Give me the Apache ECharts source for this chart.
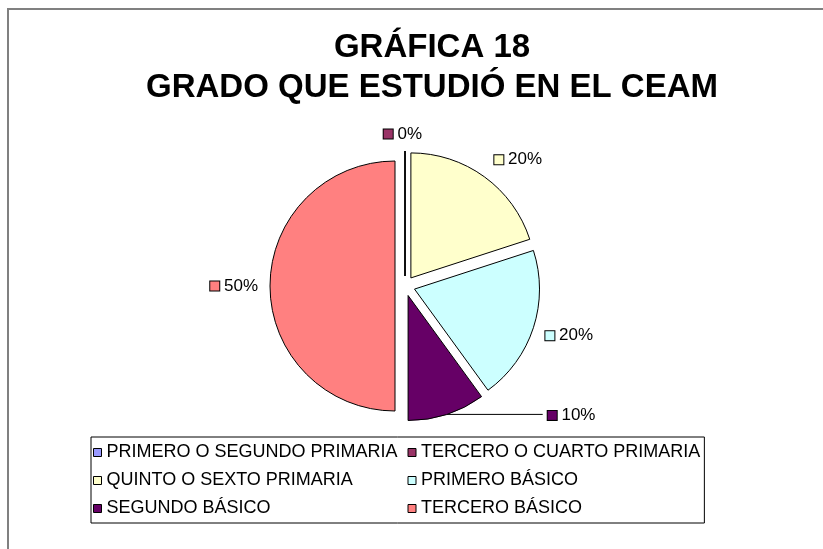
<!DOCTYPE html>
<html>
<head>
<meta charset="utf-8">
<script src="https://cdn.jsdelivr.net/npm/echarts@6/dist/echarts.min.js"></script>
<style>
	html, body { margin: 0; padding: 0; background: #fff; }
	#chart { width: 823px; height: 549px; }
</style>
</head>
<body>
<div id="chart"></div>
<script>
	// datos de la gráfica
	const categories = [
		"PRIMERO O SEGUNDO PRIMARIA",
		"TERCERO O CUARTO PRIMARIA",
		"QUINTO O SEXTO PRIMARIA",
		"PRIMERO BÁSICO",
		"SEGUNDO BÁSICO",
		"TERCERO BÁSICO"
	]
	const values = [0, 0, 20, 20, 10, 50]
	const colors = ["#9999ff", "#993366", "#ffffcc", "#ccffff", "#660066", "#ff8080"]

	// ajuste de etiquetas (dx, dy) por sector
	const labelShift = [[0, 0], [22, -17], [5, -17], [7, 8], [0, 1], [-7, 0]]

	const chart = echarts.init(document.getElementById("chart"))

	const rich = {}
	colors.forEach((c, i) => {
		rich["s" + i] = {
			width: 9,
			height: 9,
			backgroundColor: c,
			borderColor: "#000",
			borderWidth: 1
		}
	})

	const pieData = categories.map((name, i) => ({
		name: name,
		value: values[i],
		selected: true,
		itemStyle: { color: colors[i] },
		label: { show: i !== 0 },
		labelLine: i === 4
			? { show: true, length: 0, length2: 96, lineStyle: { color: "#000", width: 1 } }
			: { show: false, length: 0, length2: 0 }
	}))

	const legendData = categories.map((name, i) => ({
		name: name,
		textStyle: i % 2 === 0 ? { width: 292 } : {}
	}))

	chart.setOption({
		animation: false,
		title: {
			text: "GRÁFICA 18\nGRADO QUE ESTUDIÓ EN EL CEAM",
			left: 432,
			top: 28,
			padding: 0,
			textAlign: "center",
			textStyle: {
				fontFamily: "Liberation Sans",
				fontWeight: "bold",
				fontSize: 33,
				lineHeight: 40,
				color: "#000"
			}
		},
		graphic: [
			{
				type: "rect",
				shape: { x: 8, y: 9, width: 840, height: 560 },
				style: { fill: "none", stroke: "#808080", lineWidth: 2 },
				silent: true,
				z: -1
			}
		],
		legend: {
			data: legendData,
			left: 91,
			top: 437,
			width: 640,
			orient: "horizontal",
			itemWidth: 8,
			itemHeight: 8,
			itemGap: 9,
			icon: "rect",
			padding: [6, 4, 5, 2],
			borderColor: "#000",
			borderWidth: 1,
			selectedMode: false,
			itemStyle: { borderColor: "#000", borderWidth: 1 },
			textStyle: {
				fontFamily: "Liberation Sans",
				fontSize: 18,
				lineHeight: 19,
				color: "#000",
				overflow: "none"
			}
		},
		series: [
			{
				type: "pie",
				center: [405, 286],
				radius: 125,
				startAngle: 90,
				clockwise: true,
				selectedMode: "multiple",
				selectedOffset: 10,
				avoidLabelOverlap: false,
				itemStyle: { borderColor: "#000", borderWidth: 1 },
				emphasis: { disabled: true },
				select: { itemStyle: { borderColor: "#000", borderWidth: 1 } },
				label: {
					position: "outside",
					distanceToLabelLine: 5,
					fontFamily: "Liberation Sans",
					fontSize: 17,
					color: "#000",
					formatter: p => "{s" + p.dataIndex + "|} " + Math.round(p.percent) + "%",
					rich: rich
				},
				labelLayout: p => ({ dx: labelShift[p.dataIndex][0], dy: labelShift[p.dataIndex][1] }),
				data: pieData
			}
		]
	})
</script>
</body>
</html>
